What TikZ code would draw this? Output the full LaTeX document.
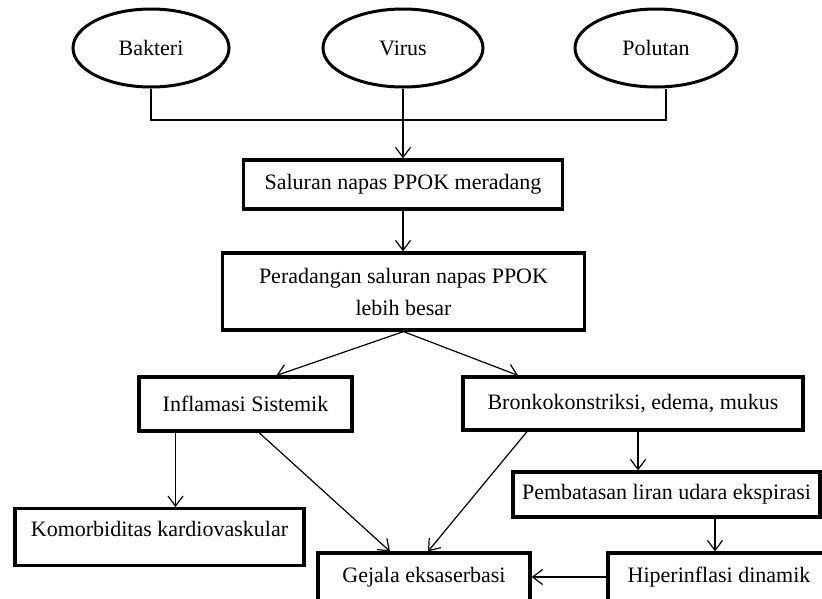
\documentclass[tikz,border=0pt]{standalone}
\usepackage{fontspec}
\setmainfont{Liberation Serif}
\usetikzlibrary{shapes.geometric, arrows.meta}

\begin{document}
\begin{tikzpicture}[x = 1pt, y = -1pt, line width = 1.2pt,
                        font = \fontsize{22}{32}\selectfont,
                        cause/.style = {ellipse, draw, line width = 3pt, minimum width = 156pt, minimum height = 78pt, inner sep = 0pt},
                        stage/.style = {rectangle, draw, line width = 3.2pt, inner sep = 0pt},
                        link/.style = {-{Straight Barb[length = 10pt, width = 15pt]}}]
      \useasboundingbox (0, 0) rectangle (822, 598);

      \node [cause] (C1) at (151, 48){Bakteri};
      \node [cause, minimum width = 160pt] (C2) at (403, 48){Virus};
      \node [cause, minimum width = 162pt] (C3) at (656, 48){Polutan};
      \coordinate (J) at (403, 120);

      \node [stage, minimum width = 319pt, minimum height = 49pt] (R1) at (403, 184.5){Saluran napas PPOK meradang};
      \node [stage, align = center, minimum width = 362pt, minimum height = 77pt] (R2) at (403.5, 291.5){Peradangan saluran napas PPOK\\lebih besar};
      \node [stage, minimum width = 213pt, minimum height = 54pt] (R3) at (245.5, 404){Inflamasi Sistemik};
      \node [stage, minimum width = 340pt, minimum height = 53pt] (R4) at (633, 403.5){Bronkokonstriksi, edema, mukus};
      \node [stage, anchor = north, minimum width = 289pt, text height = 28pt, text depth = 29pt] (R5) at (159.5, 507){Komorbiditas kardiovaskular};
      \node [stage, minimum width = 307pt, minimum height = 45pt] (R6) at (666.5, 494.5){Pembatasan liran udara ekspirasi};
      \node [stage, minimum width = 212pt, minimum height = 48pt] (R7) at (424, 577){Gejala eksaserbasi};
      \node [stage, minimum width = 222pt, minimum height = 48pt] (R8) at (719, 577){Hiperinflasi dinamik};

      \draw (C1.south) |- (J);
      \draw ([xshift = 10pt]C3.south) |- (J);
      \draw [link] (C2.south) -- (R1.north);
      \draw [link] (R1.south) -- (R1.south |- R2.north);
      \draw [link] (R2.south) -- ([xshift = 31pt]R3.north);
      \draw [link] (R2.south) -- ([xshift = -115pt]R4.north);
      \draw [link] ([xshift = -70pt]R3.south) -- ([xshift = -70pt]R3.south |- R5.north);
      \draw [link] ([xshift = 13.5pt]R3.south) -- ([xshift = -34pt]R7.north);
      \draw [link] ([xshift = -106pt]R4.south) -- ([xshift = 4pt]R7.north);
      \draw [link] ([xshift = 5pt]R4.south) -- ([xshift = 5pt]R4.south |- R6.north);
      \draw [link] ([xshift = 48.5pt]R6.south) -- ([xshift = 48.5pt]R6.south |- R8.north);
      \draw [link] (R8.west) -- (R7.east);
      \end{tikzpicture}
\end{document}
